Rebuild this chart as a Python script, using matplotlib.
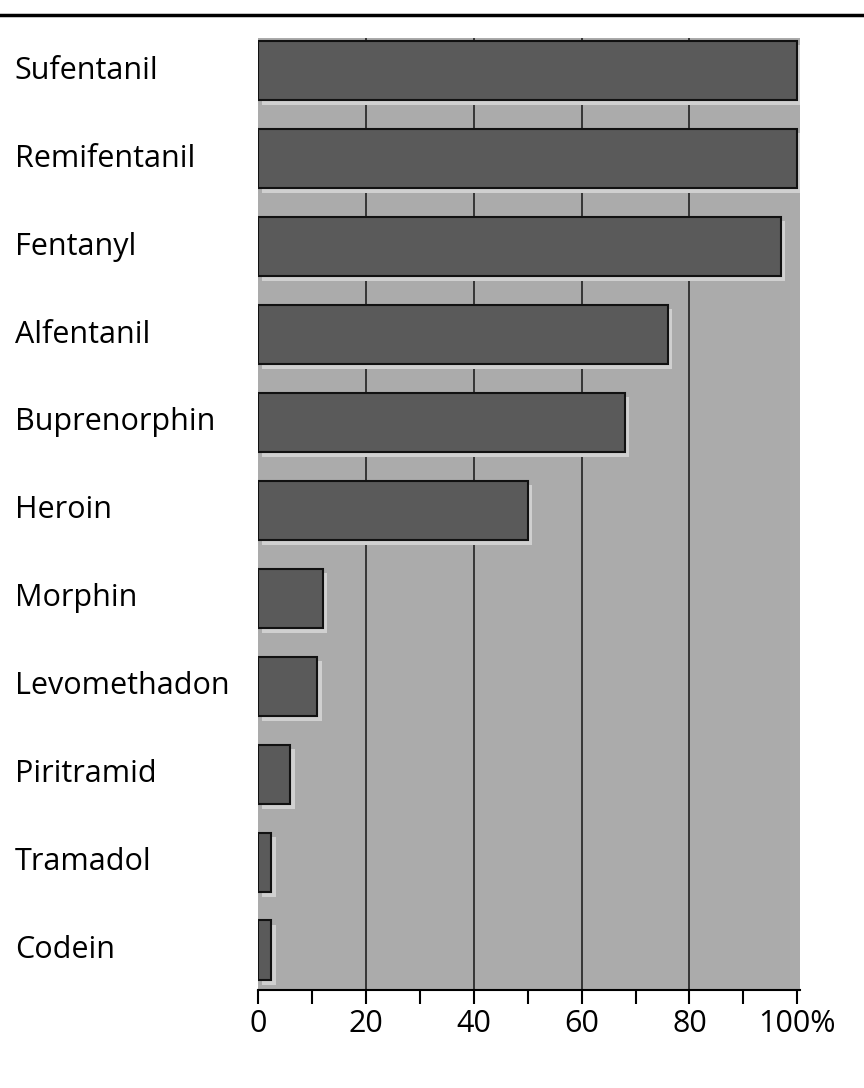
import matplotlib.pyplot as plt

drugs = ['Sufentanil', 'Remifentanil', 'Fentanyl', 'Alfentanil', 'Buprenorphin',
         'Heroin', 'Morphin', 'Levomethadon', 'Piritramid', 'Tramadol', 'Codein']
values = [100, 100, 97, 76, 68, 50, 12, 11, 6, 2.5, 2.5]
tick_vals = [0, 20, 40, 60, 80, 100]
tick_text = ['0', '20', '40', '60', '80', '100%']

fig = plt.figure(figsize=(8.64, 10.88), dpi=100)
fig.patch.set_facecolor('white')
ax = fig.add_axes([258/864, 98/1088, 542/864, 952/1088])
ax.set_facecolor('#ababab')

ypos = list(range(len(drugs)))
# shadow
ax.barh([y + 0.05 for y in ypos], values, left=0.8, height=0.68,
        color='#d0d0d0', zorder=2)
ax.barh(ypos, values, height=0.68, color='#5a5a5a', edgecolor='#111111',
        linewidth=1.5, zorder=3)

for v in tick_vals[1:-1]:
    ax.axvline(v, color='#222222', lw=1.2, zorder=1)

ax.set_xlim(0, 100.5)
ax.set_ylim(10.45, -0.37)
ax.set_yticks([])
ax.set_xticks(tick_vals)
ax.set_xticklabels(tick_text, fontsize=22, fontfamily='Open Sans')
ax.set_xticks(range(0, 101, 10), minor=True)
ax.tick_params(axis='x', which='both', direction='out', length=10, width=1.5, pad=4)
for s in ['top', 'right']:
    ax.spines[s].set_visible(False)
ax.spines['left'].set_visible(False)
ax.spines['bottom'].set_linewidth(1.5)

for y, name in zip(ypos, drugs):
    ax.text(-243/5.39, y, name, ha='left', va='center', fontsize=22,
            fontfamily='Open Sans', transform=ax.transData, clip_on=False)

fig.add_artist(plt.Line2D([0, 1], [1 - 15/1088, 1 - 15/1088], color='black', lw=2.5))

fig.savefig('out.png', dpi=100)
